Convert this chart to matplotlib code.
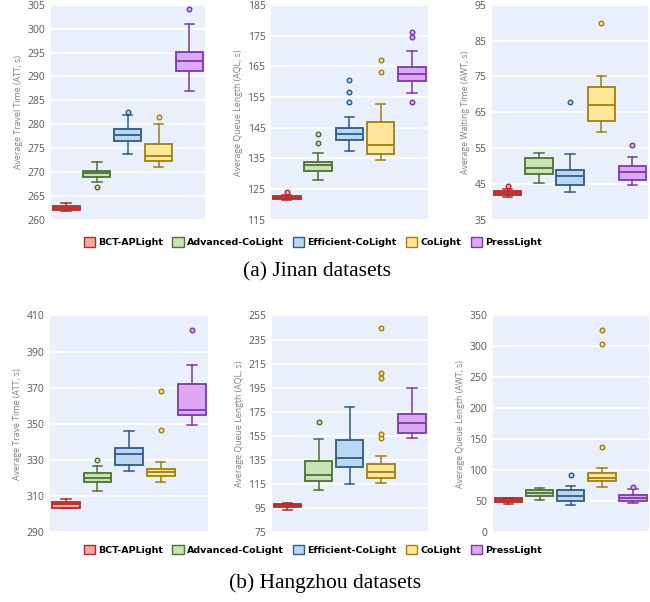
import numpy as np
import matplotlib.pyplot as plt
from matplotlib.patches import Patch

methods = ["BCT-APLight", "Advanced-CoLight", "Efficient-CoLight", "CoLight", "PressLight"]
face_colors = ["#F4A8A2", "#C9E2B8", "#BDD7EE", "#FFE699", "#DDA9F6"]
edge_colors = ["#B22A2A", "#4F6F33", "#2F5A8A", "#A07E12", "#7B3AA6"]

# box stats: [whislo, q1, med, q3, whishi]
jinan_att = [[261.8, 262.0, 262.5, 262.9, 263.6],
             [268.0, 268.9, 269.7, 270.3, 272.0],
             [273.8, 276.5, 277.7, 279.0, 282.0],
             [271.0, 272.3, 273.4, 275.9, 280.0],
             [286.9, 291.1, 293.3, 295.2, 301.0]]
jinan_att_fl = [[], [266.9], [282.6], [281.5], [304.1]]

jinan_aql = [[121.3, 121.8, 122.2, 122.6, 122.9],
             [128.1, 131.0, 132.8, 133.8, 136.8],
             [137.5, 141.0, 142.9, 144.8, 148.6],
             [134.4, 136.4, 139.5, 146.7, 152.6],
             [156.4, 160.2, 162.6, 164.7, 169.8]]
jinan_aql_fl = [[124.0], [139.9, 142.8], [153.4, 156.7, 160.6], [163.1, 166.9], [153.5, 174.5, 176.2]]

jinan_awt = [[41.4, 41.9, 42.5, 43.0, 43.6],
             [45.3, 47.9, 49.4, 52.2, 53.7],
             [42.7, 44.8, 47.2, 48.9, 53.3],
             [59.6, 62.5, 67.0, 72.1, 75.2],
             [44.8, 46.2, 48.3, 50.1, 52.6]]
jinan_awt_fl = [[44.4], [], [68.0], [89.8], [56.0]]

hz_att = [[303.2, 303.6, 305.5, 306.8, 308.6],
          [312.9, 317.7, 319.9, 322.5, 326.8],
          [324.0, 327.2, 333.4, 336.6, 345.9],
          [317.9, 321.2, 323.1, 325.1, 328.6],
          [349.3, 355.0, 357.4, 372.1, 382.3]]
hz_att_fl = [[], [330.0], [], [346.6, 368.0], [401.8]]

hz_aql = [[93.4, 95.7, 97.2, 98.2, 99.5],
          [109.8, 117.9, 122.7, 134.2, 152.4],
          [115.1, 129.1, 136.2, 151.6, 179.0],
          [115.6, 120.1, 124.9, 131.9, 138.4],
          [153.5, 157.4, 165.8, 172.9, 194.4]]
hz_aql_fl = [[], [166.4], [], [153.5, 156.6, 203.4, 207.3, 244.9], []]

hz_awt = [[45.6, 48.8, 52.1, 54.8, 55.9],
          [52.6, 59.1, 62.9, 67.8, 71.6],
          [44.0, 50.5, 58.1, 67.3, 74.3],
          [72.7, 81.9, 86.8, 95.0, 104.2],
          [47.7, 50.5, 54.8, 59.7, 70.0]]
hz_awt_fl = [[], [], [92.2], [137.3, 303.3, 326.1], [73.0]]

panels = [
    (jinan_att, jinan_att_fl, "Average Travel Time (ATT, s)", np.arange(260, 306, 5)),
    (jinan_aql, jinan_aql_fl, "Average Queue Length (AQL, s)", np.arange(115, 186, 10)),
    (jinan_awt, jinan_awt_fl, "Average Waiting Time (AWT, s)", np.arange(35, 96, 10)),
    (hz_att, hz_att_fl, "Average Trave Time (ATT, s)", np.arange(290, 411, 20)),
    (hz_aql, hz_aql_fl, "Average Queue Length (AQL, s)", np.arange(75, 256, 20)),
    (hz_awt, hz_awt_fl, "Average Queue Length (AWT, s)", np.arange(0, 351, 50)),
]

# axes rectangles in figure fractions
rects = [
    [0.078, 0.635, 0.237, 0.357],
    [0.417, 0.635, 0.241, 0.357],
    [0.757, 0.635, 0.240, 0.357],
    [0.077, 0.116, 0.243, 0.360],
    [0.418, 0.116, 0.240, 0.360],
    [0.758, 0.116, 0.240, 0.360],
]

plt.rcParams['font.family'] = ['Open Sans', 'DejaVu Sans']

fig = plt.figure(figsize=(6.5, 6.02), dpi=100)

for (stats, fliers, ylab, ticks), rect in zip(panels, rects):
    ax = fig.add_axes(rect)
    ax.set_facecolor("#E9EFFB")
    for i in range(5):
        lo, q1, med, q3, hi = stats[i]
        st = [dict(whislo=lo, q1=q1, med=med, q3=q3, whishi=hi, fliers=fliers[i])]
        ec = edge_colors[i]
        ax.bxp(st, positions=[i + 1], widths=0.88, patch_artist=True, showfliers=True,
               capwidths=0.3,
               boxprops=dict(facecolor=face_colors[i], edgecolor=ec, linewidth=1.3),
               medianprops=dict(color=ec, linewidth=1.3),
               whiskerprops=dict(color=ec, linewidth=1.1),
               capprops=dict(color=ec, linewidth=1.1),
               flierprops=dict(marker='o', markersize=3.3, markerfacecolor=face_colors[i],
                               markeredgecolor=ec, markeredgewidth=1.0))
    ax.set_xlim(0.5, 5.5)
    ax.set_ylim(ticks[0], ticks[-1])
    ax.set_yticks(ticks)
    ax.set_xticks([])
    ax.grid(axis='y', color='white', linewidth=1.2)
    ax.set_axisbelow(True)
    for s in ax.spines.values():
        s.set_visible(False)
    ax.tick_params(axis='y', length=0, labelsize=7.5, labelcolor="#595959", pad=4)
    ax.set_ylabel(ylab, fontsize=6.3, color="#7F7F7F", labelpad=3)

handles = [Patch(facecolor=face_colors[i], edgecolor=edge_colors[i], linewidth=1.0, label=methods[i])
           for i in range(5)]
for ypos in [0.598, 0.087]:
    fig.legend(handles=handles, loc='center', bbox_to_anchor=(0.481, ypos), ncol=5, frameon=False,
               prop=dict(family='DejaVu Sans', weight='bold', size=6.8),
               handlelength=1.2, handleheight=1.2, handletextpad=0.3, columnspacing=1.0)

fig.text(0.487, 0.549, "(a) Jinan datasets", ha='center', va='center',
         family='Liberation Serif', fontsize=15.5)
fig.text(0.5, 0.031, "(b) Hangzhou datasets", ha='center', va='center',
         family='Liberation Serif', fontsize=15.5)

fig.savefig("out.png", dpi=100)
